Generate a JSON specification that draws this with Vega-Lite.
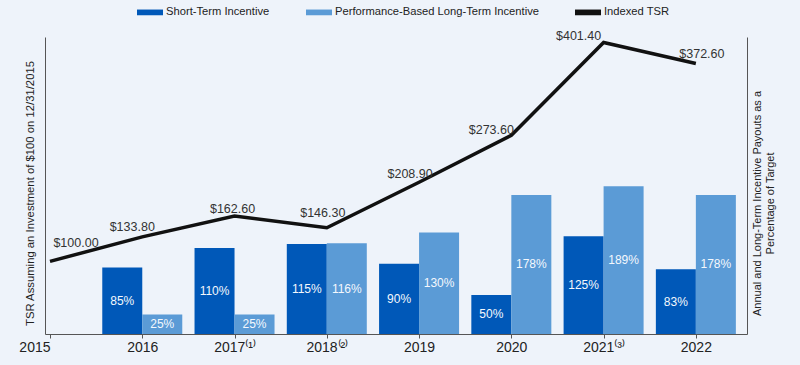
{
  "$schema": "https://vega.github.io/schema/vega-lite/v6.json",
  "width": 702,
  "height": 297,
  "autosize": {"type": "none"},
  "padding": {"left": 45, "top": 37, "right": 53, "bottom": 31},
  "background": "#eef3fa",
  "config": {
    "view": {"stroke": null},
    "font": "Liberation Sans",
    "axis": {"grid": false}
  },
  "data": {
    "values": [
      {"year": 2015, "tsr": 100.0, "sti": null, "lti": null},
      {"year": 2016, "tsr": 133.8, "sti": 85, "lti": 25},
      {"year": 2017, "tsr": 162.6, "sti": 110, "lti": 25},
      {"year": 2018, "tsr": 146.3, "sti": 115, "lti": 116},
      {"year": 2019, "tsr": 208.9, "sti": 90, "lti": 130},
      {"year": 2020, "tsr": 273.6, "sti": 50, "lti": 178},
      {"year": 2021, "tsr": 401.4, "sti": 125, "lti": 189},
      {"year": 2022, "tsr": 372.6, "sti": 83, "lti": 178}
    ]
  },
  "resolve": {"scale": {"y": "independent"}},
  "layer": [
    {
      "mark": {"type": "bar", "width": 40, "xOffset": -20},
      "encoding": {
        "x": {
          "field": "year", "type": "quantitative",
          "scale": {"domain": [2015, 2022.5], "nice": false, "zero": false},
          "axis": {
            "values": [2015, 2016, 2017, 2018, 2019, 2020, 2021, 2022],
            "format": "d",
            "labelExpr": "datum.value == 2017 ? '2017⁽¹⁾' : datum.value == 2018 ? '2018⁽²⁾' : datum.value == 2021 ? '2021⁽³⁾' : datum.label",
            "labelFontSize": 14,
            "labelColor": "#222222",
            "labelPadding": 2,
            "labelFlush": false,
            "labelAlign": {"condition": {"test": "datum.value == 2015", "value": "right"}, "value": "center"},
            "tickSize": 4,
            "tickColor": "#555555",
            "domainColor": "#555555",
            "title": null
          }
        },
        "y": {
          "field": "sti", "type": "quantitative",
          "scale": {"domain": [0, 380], "nice": false},
          "axis": {
            "orient": "right",
            "labels": false,
            "ticks": false,
            "domainColor": "#555555",
            "title": ["Annual and Long-Term Incentive Payouts as a", "Percentage of Target"],
            "titleAngle": 270,
            "titleBaseline": "top",
            "titleAlign": "center",
            "titleFontSize": 11,
            "titleFontWeight": "normal",
            "titleColor": "#222222",
            "titleX": 4,
            "titleY": 166
          }
        },
        "color": {
          "datum": "Short-Term Incentive", "type": "nominal",
          "scale": {
            "domain": ["Short-Term Incentive", "Performance-Based Long-Term Incentive", "Indexed TSR"],
            "range": ["#0058b8", "#5b9bd6", "#111111"]
          },
          "legend": {
            "orient": "none",
            "legendX": 92,
            "legendY": -38,
            "direction": "horizontal",
            "columns": 3,
            "title": null,
            "symbolType": "M-1,-0.22H1V0.22H-1Z",
            "symbolSize": 676,
            "symbolStrokeWidth": 0,
            "labelFontSize": 11.2,
            "labelColor": "#222222",
            "labelOffset": 3,
            "labelLimit": 400,
            "columnPadding": 36
          }
        }
      }
    },
    {
      "mark": {"type": "bar", "width": 40, "xOffset": 20},
      "encoding": {
        "x": {"field": "year", "type": "quantitative"},
        "y": {"field": "lti", "type": "quantitative", "scale": {"domain": [0, 380], "nice": false}, "axis": null},
        "color": {"datum": "Performance-Based Long-Term Incentive", "type": "nominal"}
      }
    },
    {
      "mark": {"type": "text", "dx": -20, "color": "#f4f8fd", "fontSize": 12, "baseline": "middle", "text": {"expr": "datum.sti + '%'"}},
      "encoding": {
        "x": {"field": "year", "type": "quantitative"},
        "y": {"field": "sti", "type": "quantitative", "scale": {"domain": [0, 760], "nice": false}, "axis": null}
      }
    },
    {
      "mark": {"type": "text", "dx": 20, "color": "#f4f8fd", "fontSize": 12, "baseline": "middle", "text": {"expr": "datum.lti + '%'"}},
      "encoding": {
        "x": {"field": "year", "type": "quantitative"},
        "y": {"field": "lti", "type": "quantitative", "scale": {"domain": [0, 760], "nice": false}, "axis": null}
      }
    },
    {
      "mark": {"type": "line", "color": "#111111", "strokeWidth": 3.5},
      "encoding": {
        "x": {"field": "year", "type": "quantitative"},
        "y": {
          "field": "tsr", "type": "quantitative",
          "scale": {"domain": [0, 409], "nice": false},
          "axis": {
            "orient": "left",
            "labels": false,
            "ticks": false,
            "domainColor": "#555555",
            "title": "TSR Assuming an Investment of $100 on 12/31/2015",
            "titleFontSize": 11.3,
            "titleFontWeight": "normal",
            "titleColor": "#222222",
            "titlePadding": 10,
            "titleY": 156
          }
        }
      }
    },
    {
      "mark": {
        "type": "text", "fontSize": 12.5, "color": "#333333", "baseline": "middle", "align": "center",
        "dx": {"expr": "[26, -10, -2, -4, -9, -20, -25, 6][datum.year - 2015]"},
        "dy": {"expr": "[-18, -10, -7, -15, -8, -5, -7, -9][datum.year - 2015]"}
      },
      "encoding": {
        "x": {"field": "year", "type": "quantitative"},
        "y": {"field": "tsr", "type": "quantitative", "scale": {"domain": [0, 409], "nice": false}, "axis": null},
        "text": {"field": "tsr", "type": "quantitative", "format": "$.2f"}
      }
    }
  ]
}
